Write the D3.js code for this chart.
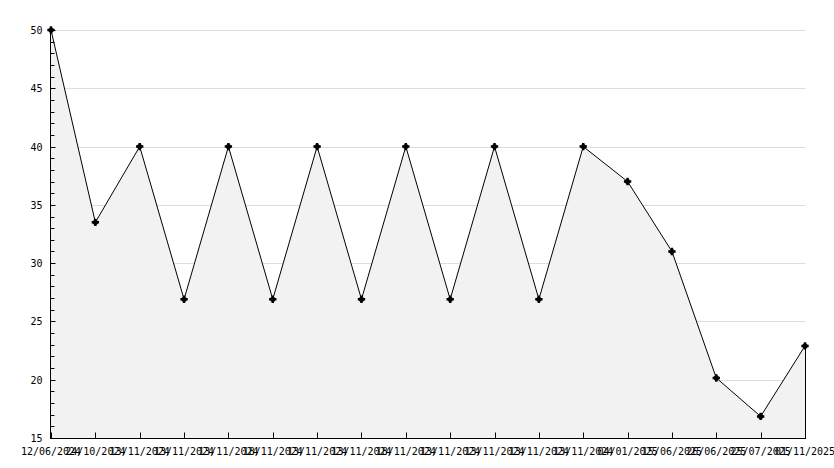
<html>
<head>
    <meta charset="UTF-8">
    <script src="https://d3js.org/d3.v7.min.js"></script>
    <title>Chart</title>
    <style>
        body { margin: 0; background: white; }
        text { font-family: "DejaVu Sans Mono", monospace; font-size: 10px; fill: black; }
    </style>
</head>
<body>
    <svg width="834" height="468"></svg>
    <script>
        // data
        const dates = ['12/06/2024', '24/10/2024', '13/11/2024', '13/11/2024', '13/11/2024', '18/11/2024',
            '13/11/2024', '13/11/2024', '18/11/2024', '13/11/2024', '13/11/2024', '13/11/2024',
            '13/11/2024', '04/01/2025', '15/06/2025', '26/06/2025', '25/07/2025', '01/11/2025'];
        const values = [50, 33.5, 40, 26.9, 40, 26.9, 40, 26.9, 40, 26.9, 40, 26.9, 40, 37, 31, 20.15, 16.85, 22.9];
        const yTicks = [15, 20, 25, 30, 35, 40, 45, 50];

        const svg = d3.select('svg');
        const mLeft = 51, mRight = 805, mTop = 30, mBottom = 438;

        const x = d3.scalePoint().domain(d3.range(dates.length)).range([mLeft, mRight]);
        const y = d3.scaleLinear().domain([15, 50]).range([mBottom, mTop]);

        // grid
        svg.append('g').selectAll('line')
            .data(yTicks.slice(1))
            .join('line')
            .attr('x1', mLeft).attr('x2', mRight)
            .attr('y1', d => Math.round(y(d)) + 0.5).attr('y2', d => Math.round(y(d)) + 0.5)
            .style('stroke', '#dddddd');

        // area
        const area = d3.area()
            .x((d, i) => x(i))
            .y0(mBottom)
            .y1(d => y(d));
        svg.append('path')
            .datum(values)
            .attr('d', area)
            .style('fill', '#f2f2f2');

        // right edge of the area
        svg.append('line')
            .attr('x1', mRight + 0.5).attr('x2', mRight + 0.5)
            .attr('y1', y(values[values.length - 1])).attr('y2', mBottom)
            .style('stroke', 'black');

        // line
        const line = d3.line()
            .x((d, i) => x(i))
            .y(d => y(d));
        svg.append('path')
            .datum(values)
            .attr('d', line)
            .style('fill', 'none')
            .style('stroke', 'black')
            .style('stroke-width', 1);

        // y axis
        const yAxis = svg.append('g').attr('transform', 'translate(' + (mLeft - 0.5) + ',0)');
        yAxis.append('line').attr('y1', mTop - 2).attr('y2', mBottom).style('stroke', 'black');
        yAxis.selectAll('.minor')
            .data(d3.range(15, 51, 1))
            .join('line')
            .attr('class', 'minor')
            .attr('x1', 0).attr('x2', d => d % 5 === 0 ? 5 : 4)
            .attr('y1', d => Math.round(y(d)) + 0.5).attr('y2', d => Math.round(y(d)) + 0.5)
            .style('stroke', 'black');
        yAxis.selectAll('text')
            .data(yTicks)
            .join('text')
            .attr('x', -8)
            .attr('y', d => y(d) + 4)
            .attr('text-anchor', 'end')
            .text(d => d);

        // x axis
        const xAxis = svg.append('g').attr('transform', 'translate(0,' + (mBottom + 0.5) + ')');
        xAxis.append('line').attr('x1', mLeft - 1).attr('x2', mRight + 1).style('stroke', 'black');
        xAxis.selectAll('line.t')
            .data(dates)
            .join('line')
            .attr('class', 't')
            .attr('x1', (d, i) => Math.round(x(i)) + 0.5).attr('x2', (d, i) => Math.round(x(i)) + 0.5)
            .attr('y1', 0).attr('y2', -6)
            .style('stroke', 'black');
        xAxis.selectAll('text')
            .data(dates)
            .join('text')
            .attr('x', (d, i) => x(i))
            .attr('y', 16)
            .attr('text-anchor', 'middle')
            .text(d => d);

        // markers
        svg.append('g').selectAll('path.m')
            .data(values)
            .join('path')
            .attr('class', 'm')
            .attr('transform', (d, i) => 'translate(' + x(i) + ',' + y(d) + ')')
            .attr('d', d3.symbol().type(d3.symbolCross).size(30))
            .style('fill', 'black');
        svg.append('g').selectAll('circle')
            .data(values)
            .join('circle')
            .attr('cx', (d, i) => x(i))
            .attr('cy', d => y(d))
            .attr('r', 2.6)
            .style('fill', 'black');
    </script>
</body>
</html>
